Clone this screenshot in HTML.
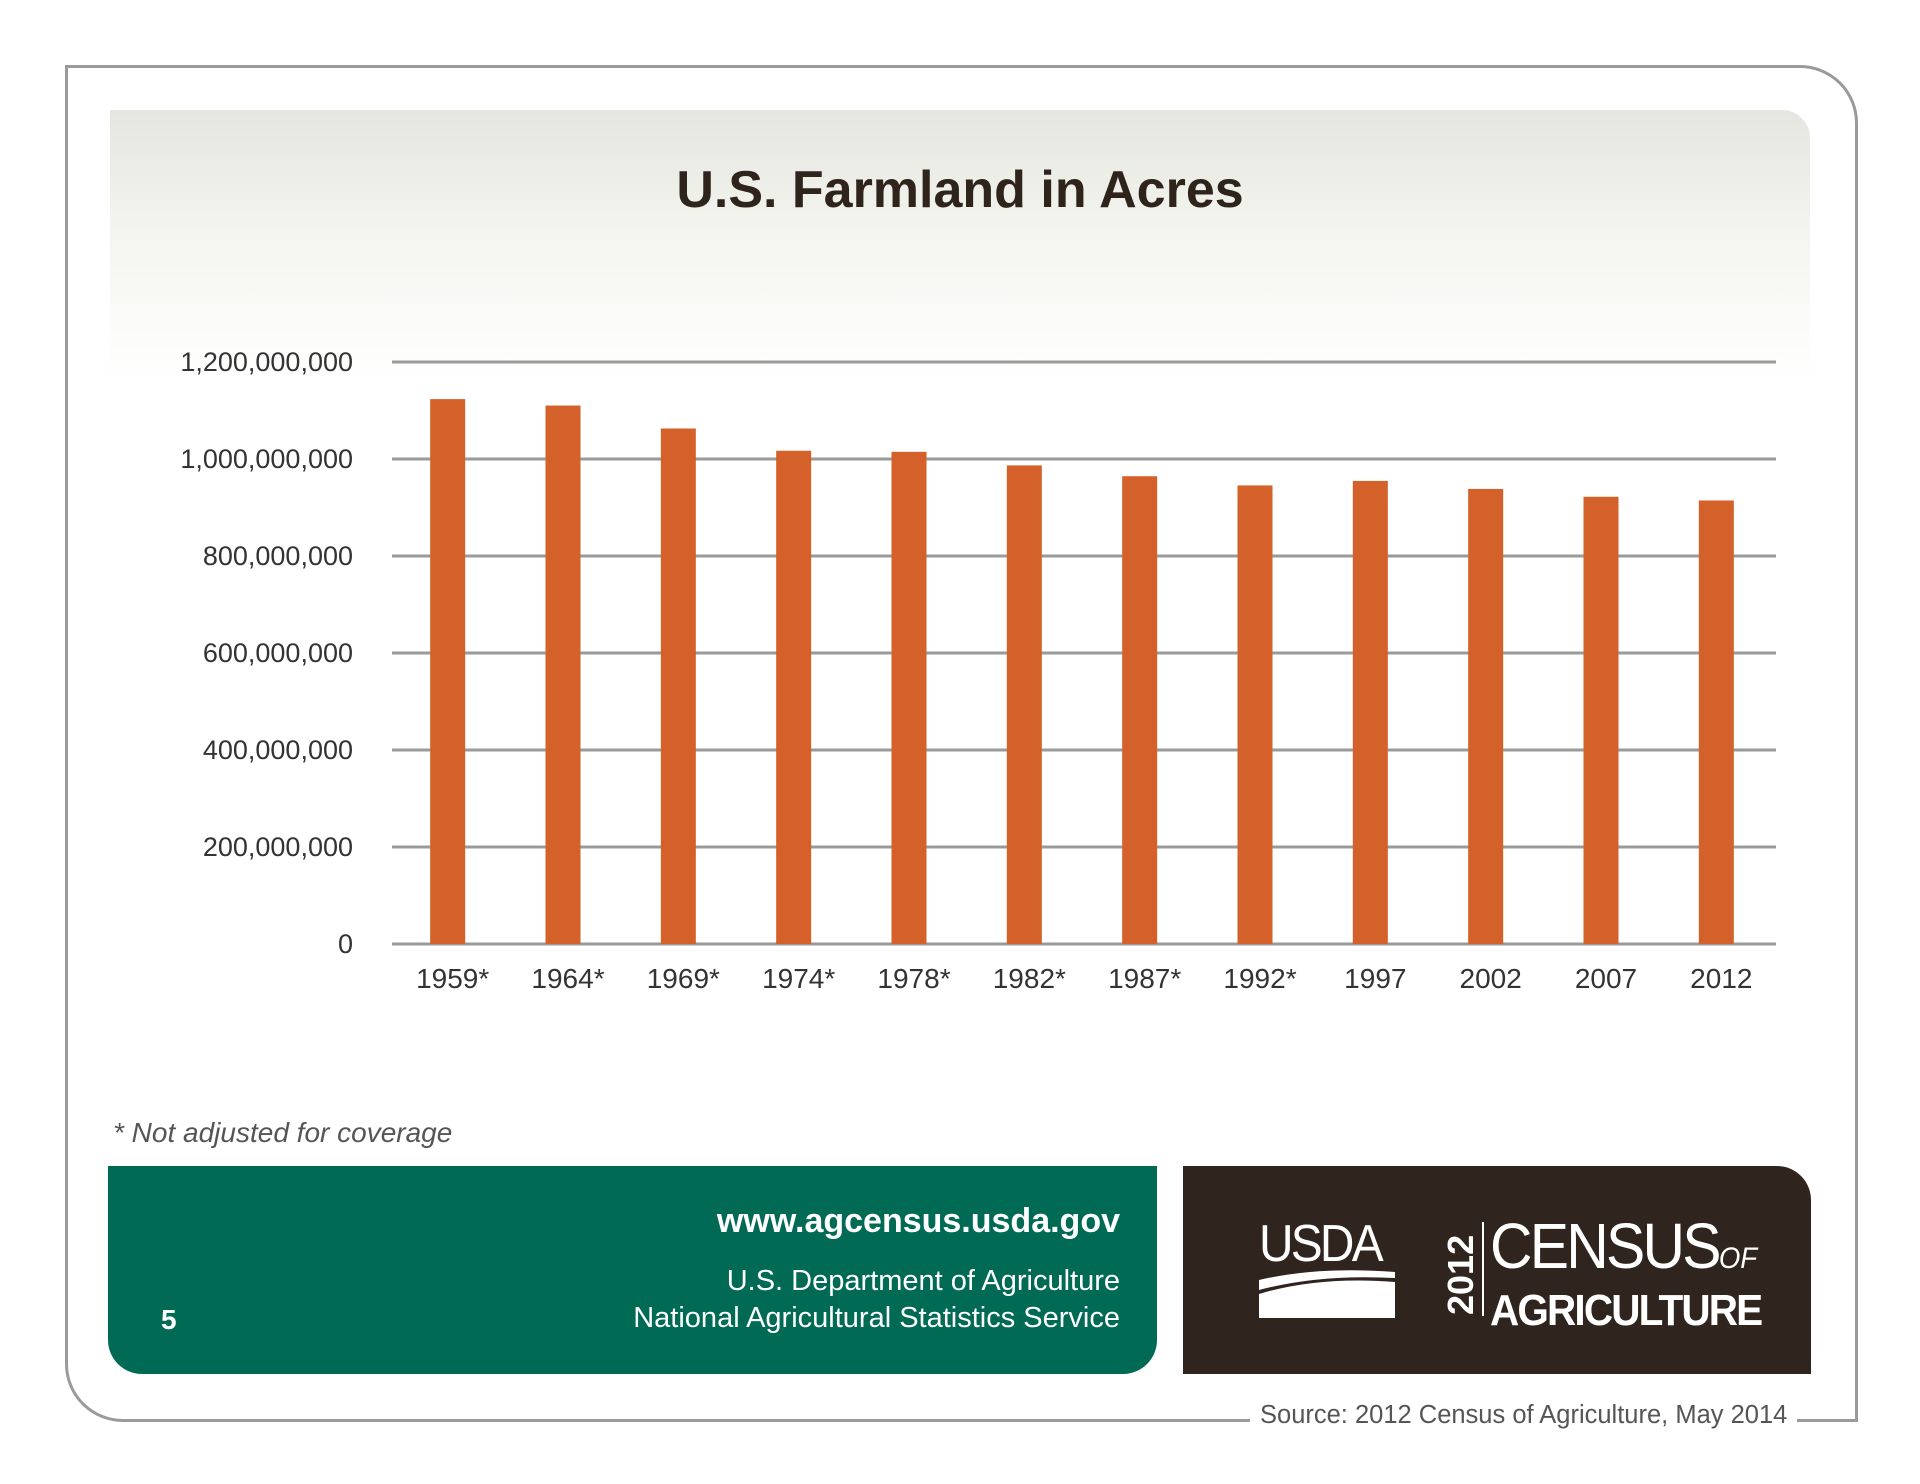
<!DOCTYPE html>
<html><head><meta charset="utf-8">
<style>
html,body{margin:0;padding:0;background:#fff;}
body{width:1920px;height:1484px;position:relative;overflow:hidden;font-family:"Liberation Sans",sans-serif;}
.abs{position:absolute;}
</style></head>
<body>
<div class="abs" style="left:65px;top:65px;width:1787px;height:1351px;border:3px solid #9a9a9a;border-top-right-radius:58px;border-bottom-left-radius:58px;"></div>
<div class="abs" style="left:110px;top:110px;width:1700px;height:270px;border-top-right-radius:28px;background:linear-gradient(#e6e6e0 0%,#f5f5f1 50%,#fff 100%);"></div>
<div class="abs" style="left:0;width:1920px;top:160px;text-align:center;font-size:52px;font-weight:bold;color:#2f241c;">U.S. Farmland in Acres</div>

<svg class="abs" style="left:0;top:0" width="1920" height="1100">
<g id="grid"></g><g id="bars"></g><g id="xl"></g><g id="yl"></g>
</svg>

<div class="abs" style="left:113px;top:1117px;font-size:28px;font-style:italic;color:#555;">* Not adjusted for coverage</div>

<div class="abs" style="left:108px;top:1166px;width:1049px;height:208px;background:#006a55;border-bottom-left-radius:34px;border-bottom-right-radius:34px;"></div>
<div class="abs" style="right:800px;top:1202px;font-size:34px;font-weight:bold;color:#fff;">www.agcensus.usda.gov</div>
<div class="abs" style="right:800px;top:1263px;font-size:29px;line-height:37px;color:#fff;text-align:right;">U.S. Department of Agriculture<br>National Agricultural Statistics Service</div>
<div class="abs" style="left:161px;top:1304px;font-size:28px;font-weight:bold;color:#fff;">5</div>

<div class="abs" style="left:1183px;top:1166px;width:628px;height:208px;background:#30251e;border-top-right-radius:34px;"></div>
<div class="abs" style="left:1259px;top:1218px;width:136px;height:100px;">
 <div style="font-size:52px;color:#fff;letter-spacing:-3px;transform:scaleX(0.92);transform-origin:left;line-height:52px;">USDA</div>
 <svg width="136" height="50" style="position:absolute;left:0;top:50px"><path d="M0 12 Q60 -2 136 4 L136 10 Q60 6 0 22Z M0 26 Q60 8 136 14 L136 50 L0 50Z" fill="#fff"/></svg>
</div>
<div class="abs" style="left:1425px;top:1258px;width:72px;font-size:36px;font-weight:bold;color:#fff;transform:rotate(-90deg);">2012</div>
<div class="abs" style="left:1482px;top:1222px;width:2px;height:94px;background:#fff"></div>
<div class="abs" style="left:1490px;top:1214px;color:#fff;">
 <div style="font-size:64px;line-height:64px;letter-spacing:-3px;transform:scaleX(0.92);transform-origin:left;">CENSUS<span style="font-size:30px;font-style:italic;letter-spacing:0">OF</span></div>
 <div style="font-size:44px;line-height:40px;font-weight:bold;letter-spacing:-2px;transform:scaleX(0.92);transform-origin:left;">AGRICULTURE</div>
</div>

<div class="abs" style="left:1250px;top:1401px;padding:0 10px;background:#fff;font-size:25.5px;color:#555;">Source: 2012 Census of Agriculture, May 2014</div>

<script>
const categories=["1959*","1964*","1969*","1974*","1978*","1982*","1987*","1992*","1997","2002","2007","2012"];
const acres=[1123500000,1110200000,1062900000,1017000000,1014800000,986800000,964500000,945500000,954800000,938300000,922100000,914500000];
const yTicks=[0,200000000,400000000,600000000,800000000,1000000000,1200000000];
const yTickLabels=["0","200,000,000","400,000,000","600,000,000","800,000,000","1,000,000,000","1,200,000,000"];
const NS="http://www.w3.org/2000/svg";
const x0=392,x1=1776,yB=944,yT=362,yMax=1200000000;
const y=v=>yB-(v/yMax)*(yB-yT);
const step=(x1-x0)/categories.length;
const xc=i=>x0+step*(i+0.5)-2;
function mk(tag,attrs,parent,text){const e=document.createElementNS(NS,tag);for(const k in attrs)e.setAttribute(k,attrs[k]);if(text!==undefined)e.textContent=text;document.getElementById(parent).appendChild(e);return e;}
yTicks.forEach((t,i)=>{
 const l=mk('line',{x1:x0,x2:x1,y1:y(t),y2:y(t),stroke:'#9a9a9a','stroke-width':3},'grid');
 
 
 const tx=mk('text',{x:353,y:y(t)+9,'text-anchor':'end','font-size':27,fill:'#333','font-family':'Liberation Sans, sans-serif'},'yl',yTickLabels[i]);
 
 
});
categories.forEach((c,i)=>{
 const b=mk('rect',{x:xc(i)-17.5,y:y(acres[i]),width:35,height:yB-y(acres[i]),fill:'#d5612a'},'bars');
 
 
 const t=mk('text',{x:xc(i)+5,y:988,'text-anchor':'middle','font-size':28,fill:'#333','font-family':'Liberation Sans, sans-serif'},'xl',c);
 
 
});
</script>
</body></html>
